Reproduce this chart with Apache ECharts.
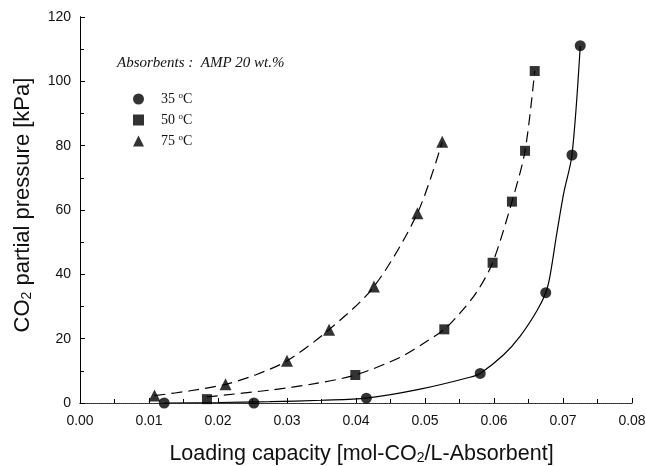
<!DOCTYPE html>
<html><head><meta charset="utf-8">
<script src="https://cdn.jsdelivr.net/npm/echarts@6/dist/echarts.min.js"></script>
<style>html,body{margin:0;padding:0;background:#fff}#c{width:646px;height:466px}</style>
</head><body><div id="c"></div>
<script>
// Measured points
const loading35 = [0.0122, 0.0252, 0.0415, 0.0580, 0.0675, 0.0713, 0.0725];
const pressure35 = [0.0, 0.0, 1.5, 9.2, 34.3, 77.1, 111.1];
const loading50 = [0.0184, 0.0399, 0.0528, 0.0598, 0.0626, 0.0645, 0.0659];
const pressure50 = [1.2, 8.7, 22.9, 43.6, 62.6, 78.4, 103.2];
const loading75 = [0.0108, 0.0211, 0.0300, 0.0361, 0.0426, 0.0489, 0.0525];
const pressure75 = [2.3, 5.8, 13.1, 22.8, 36.2, 59.0, 81.2];
// Fitted curves
const fit35X = [0.0122, 0.0200, 0.0275, 0.0350, 0.0415, 0.0493, 0.0565, 0.0580, 0.0614, 0.0638, 0.0662, 0.0675, 0.0681, 0.0691, 0.0701, 0.0713, 0.0725];
const fit35Y = [0.0, 0.15, 0.4, 0.85, 1.5, 4.3, 8.0, 9.2, 15.0, 20.8, 28.6, 34.3, 39.3, 52.7, 65.2, 77.1, 111.0];
const fit50X = [0.0184, 0.0275, 0.0340, 0.0399, 0.0464, 0.0502, 0.0528, 0.0551, 0.0575, 0.0598, 0.0626, 0.0645, 0.0659];
const fit50Y = [1.9, 4.0, 6.0, 8.7, 14.2, 19.1, 22.9, 28.0, 34.5, 43.6, 62.6, 78.4, 103.2];
const fit75X = [0.0108, 0.0160, 0.0211, 0.0255, 0.0300, 0.0361, 0.0426, 0.0489, 0.0525];
const fit75Y = [2.3, 3.8, 5.8, 8.8, 13.1, 22.8, 36.2, 59.0, 81.2];
const seriesNames = ['35 {sup|o}C', '50 {sup|o}C', '75 {sup|o}C'];
const noteText = 'Absorbents :  AMP 20 wt.%';

const zip = (a, b) => a.map((v, i) => [v, b[i]]);
const chart = echarts.init(document.getElementById('c'));
const axisFont = {fontFamily: 'Liberation Sans, Arial, sans-serif', color: '#111'};
const lineBase = {type: 'line', symbol: 'none', smooth: 0.3, silent: true, z: 2};
const scatterBase = {type: 'scatter', itemStyle: {color: '#000'}, z: 5};
chart.setOption({
  animation: false,
  grid: {left: 80, right: 14, top: 17, bottom: 63, containLabel: false, outerBoundsMode: 'none'},
  legend: {
    orient: 'vertical', left: 128, top: 86, itemGap: 6, itemWidth: 11, itemHeight: 11,
    data: [
      {name: seriesNames[0], icon: 'circle'},
      {name: seriesNames[1], icon: 'rect'},
      {name: seriesNames[2], icon: 'triangle'}
    ],
    textStyle: {fontFamily: 'Liberation Serif, serif', fontSize: 14, color: '#111', padding: [0,0,0,12],
      rich: {sup: {fontSize: 9, verticalAlign: 'top', lineHeight: 16, fontFamily: 'Liberation Serif, serif', color: '#111'}}},
    selectedMode: false
  },
  graphic: [{type: 'text', left: 117, top: 56,
    style: {text: noteText, fontFamily: 'Liberation Serif, serif', fontStyle: 'italic', fontSize: 15, fill: '#111'}}],
  xAxis: [{
    type: 'value', min: 0, max: 0.08, interval: 0.01,
    axisLine: {lineStyle: {color: '#000', width: 1}},
    axisTick: {inside: true, length: 5, lineStyle: {color: '#000'}},
    minorTick: {show: true, splitNumber: 2, length: 4, lineStyle: {color: '#000'}},
    splitLine: {show: false},
    axisLabel: Object.assign({fontSize: 14, margin: 11, formatter: v => v.toFixed(2)}, axisFont),
    name: '{a|Loading capacity [mol-CO}{s|2}{a|/L-Absorbent]}',
    nameLocation: 'middle', nameGap: 40,
    nameTextStyle: {padding: [0, 0, 0, 11], rich: {
      a: Object.assign({fontSize: 21.5}, axisFont),
      s: Object.assign({fontSize: 14, verticalAlign: 'bottom', padding: [8,0,0,0]}, axisFont)}}
  }, {
    type: 'value', position: 'top', min: 0, max: 0.08,
    axisLine: {show: true, lineStyle: {color: '#444', type: 'dotted', width: 1}},
    axisTick: {show: false}, axisLabel: {show: false}, splitLine: {show: false}
  }],
  yAxis: [{
    type: 'value', min: 0, max: 120, interval: 20,
    axisLine: {show: true, lineStyle: {color: '#000', width: 1}},
    axisTick: {inside: true, length: 5, lineStyle: {color: '#000'}},
    minorTick: {show: true, splitNumber: 2, length: 4, lineStyle: {color: '#000'}},
    splitLine: {show: false},
    axisLabel: Object.assign({fontSize: 14, margin: 9}, axisFont),
    name: '{a|CO}{s|2}{a| partial pressure [kPa]}',
    nameLocation: 'middle', nameGap: 46,
    nameTextStyle: {padding: [0, 0, 0, 10], rich: {
      a: Object.assign({fontSize: 22}, axisFont),
      s: Object.assign({fontSize: 14, verticalAlign: 'bottom', padding: [8,0,0,0]}, axisFont)}}
  }, {
    type: 'value', position: 'right', min: 0, max: 120,
    axisLine: {show: true, lineStyle: {color: '#000', width: 1}},
    axisTick: {show: false}, axisLabel: {show: false}, splitLine: {show: false}
  }],
  series: [
    Object.assign({}, lineBase, {name: 'fit35', data: zip(fit35X, fit35Y), lineStyle: {color: '#000', width: 1.2}}),
    Object.assign({}, lineBase, {name: 'fit50', data: zip(fit50X, fit50Y), lineStyle: {color: '#000', width: 1.2, type: [11, 6]}}),
    Object.assign({}, lineBase, {name: 'fit75', data: zip(fit75X, fit75Y), lineStyle: {color: '#000', width: 1.2, type: [11, 6]}}),
    Object.assign({}, scatterBase, {name: seriesNames[0], symbol: 'circle', symbolSize: 11, data: zip(loading35, pressure35)}),
    Object.assign({}, scatterBase, {name: seriesNames[1], symbol: 'rect', symbolSize: 10, data: zip(loading50, pressure50)}),
    Object.assign({}, scatterBase, {name: seriesNames[2], symbol: 'triangle', symbolSize: 12, data: zip(loading75, pressure75)})
  ]
});
</script></body></html>
